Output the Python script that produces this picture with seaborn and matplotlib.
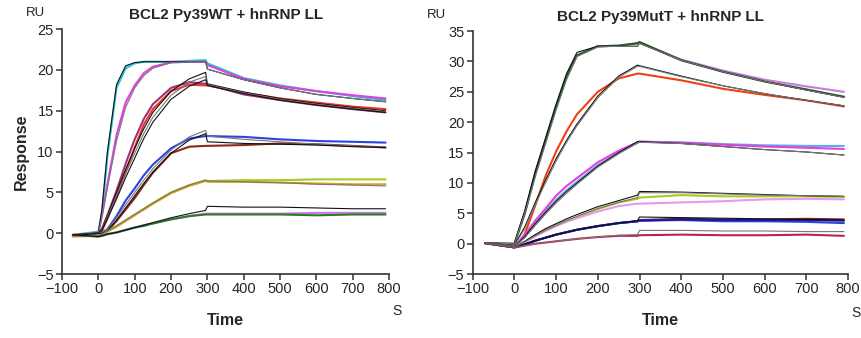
import numpy as np
import pandas as pd
import matplotlib
matplotlib.use("Agg")
import matplotlib.pyplot as plt
import seaborn as sns

times = [-70, 0, 10, 25, 50, 75, 100, 125, 150, 200, 250, 295, 300, 400, 500, 600, 700, 790]

# ---- left panel: BCL2 Py39WT + hnRNP LL ----
wt_data = {
    "cyan":    [-0.2, 0.2, 2.5, 9.5, 17.8, 20.2, 20.8, 21.0, 21.0, 21.0, 21.1, 21.2, 20.8, 19.0, 18.1, 17.4, 16.8, 16.3],
    "magenta": [-0.2, 0.0, 2.2, 6.0, 12.0, 16.0, 18.1, 19.6, 20.4, 20.9, 21.0, 21.0, 20.6, 18.9, 18.0, 17.4, 16.9, 16.5],
    "red":     [-0.2, 0.0, 0.3, 1.8, 4.5, 7.5, 10.5, 13.3, 15.2, 17.4, 18.2, 18.1, 18.1, 17.2, 16.5, 16.0, 15.5, 15.2],
    "purple":  [-0.3, 0.0, 0.5, 2.2, 5.2, 8.5, 11.5, 14.0, 15.8, 17.8, 18.5, 18.3, 18.2, 17.0, 16.3, 15.7, 15.2, 14.8],
    "blue":    [-0.3, 0.0, 0.1, 0.5, 2.1, 4.0, 5.5, 7.1, 8.4, 10.4, 11.6, 11.9, 11.9, 11.8, 11.5, 11.3, 11.2, 11.1],
    "brown":   [-0.3, 0.0, 0.0, 0.3, 1.5, 2.9, 4.3, 5.9, 7.4, 9.8, 10.6, 10.7, 10.7, 10.8, 11.0, 10.9, 10.7, 10.5],
    "lime":    [-0.3, -0.3, -0.1, 0.3, 0.9, 1.6, 2.3, 3.0, 3.7, 5.0, 5.9, 6.5, 6.4, 6.5, 6.5, 6.6, 6.6, 6.6],
    "orange":  [-0.4, -0.3, -0.1, 0.2, 0.8, 1.5, 2.2, 2.9, 3.6, 4.9, 5.8, 6.4, 6.3, 6.3, 6.2, 6.1, 6.0, 6.0],
    "violet":  [-0.2, -0.4, -0.3, -0.1, 0.1, 0.4, 0.7, 1.0, 1.2, 1.7, 2.1, 2.4, 2.4, 2.4, 2.4, 2.5, 2.5, 2.5],
    "green":   [-0.2, -0.4, -0.3, -0.1, 0.1, 0.4, 0.7, 0.9, 1.2, 1.7, 2.1, 2.3, 2.3, 2.3, 2.3, 2.2, 2.3, 2.3],
}
wt_fits = [
    [-0.2, 0.0, 3.0, 10.0, 18.2, 20.5, 20.9, 21.0, 21.0, 21.0, 21.0, 21.0, 20.1, 18.8, 17.8, 17.0, 16.5, 16.1],
    [-0.2, 0.0, 2.0, 5.6, 11.3, 15.4, 17.8, 19.3, 20.2, 20.9, 21.0, 21.0, 20.1, 18.8, 17.8, 17.0, 16.5, 16.1],
    [-0.2, 0.0, 0.6, 2.2, 5.0, 7.8, 10.4, 12.8, 14.8, 17.4, 18.9, 19.7, 18.3, 17.3, 16.5, 15.9, 15.4, 15.0],
    [-0.2, 0.0, 0.5, 2.0, 4.6, 7.3, 9.8, 12.2, 14.2, 16.9, 18.5, 19.2, 18.2, 17.2, 16.4, 15.8, 15.3, 14.9],
    [-0.2, 0.0, 0.4, 1.8, 4.2, 6.8, 9.2, 11.6, 13.6, 16.4, 18.0, 18.8, 18.1, 17.1, 16.3, 15.7, 15.2, 14.8],
    [-0.3, 0.0, 0.1, 0.5, 1.9, 3.5, 5.0, 6.5, 7.9, 10.2, 11.8, 12.6, 11.9, 11.5, 11.2, 10.9, 10.7, 10.5],
    [-0.3, 0.0, 0.0, 0.3, 1.6, 3.1, 4.6, 6.1, 7.5, 9.8, 11.4, 12.2, 11.2, 11.0, 10.9, 10.8, 10.6, 10.5],
    [-0.3, -0.3, -0.1, 0.3, 0.9, 1.6, 2.3, 3.0, 3.7, 5.0, 5.9, 6.5, 6.4, 6.3, 6.2, 6.0, 5.9, 5.8],
    [-0.2, -0.4, -0.3, -0.1, 0.1, 0.4, 0.7, 1.0, 1.3, 1.9, 2.4, 2.8, 3.3, 3.2, 3.2, 3.1, 3.0, 3.0],
]

# ---- right panel: BCL2 Py39MutT + hnRNP LL ----
mut_data = {
    "violet":   [0.1, 0.0, 2.0, 5.0, 11.5, 17.0, 22.5, 27.5, 31.0, 32.5, 32.6, 33.0, 33.1, 30.3, 28.5, 27.0, 25.9, 25.0],
    "dkgreen":  [0.1, 0.0, 2.0, 5.0, 11.5, 17.0, 22.5, 27.5, 31.0, 32.5, 32.6, 33.0, 33.2, 30.2, 28.3, 26.7, 25.4, 24.2],
    "orangered":[0.1, -0.3, 0.0, 1.6, 6.3, 11.2, 15.2, 18.5, 21.3, 25.0, 27.2, 28.0, 28.0, 26.9, 25.5, 24.5, 23.6, 22.6],
    "ltblue":   [0.1, -0.5, 0.2, 1.2, 3.3, 5.3, 7.2, 8.8, 10.2, 12.9, 15.0, 16.6, 16.8, 16.7, 16.4, 16.2, 16.1, 16.1],
    "magenta":  [0.1, -0.5, 0.3, 1.5, 3.8, 5.8, 7.9, 9.5, 10.8, 13.4, 15.3, 16.7, 16.8, 16.6, 16.3, 16.0, 15.8, 15.6],
    "lime":     [0.1, -0.5, -0.2, 0.3, 1.4, 2.3, 3.1, 3.8, 4.4, 5.7, 6.8, 7.4, 7.6, 8.0, 7.8, 7.8, 7.8, 7.7],
    "pink":     [0.1, -0.5, -0.2, 0.3, 1.2, 2.1, 2.9, 3.6, 4.2, 5.3, 6.2, 6.6, 6.6, 6.8, 7.0, 7.3, 7.4, 7.3],
    "dkred":    [0.1, -0.6, -0.4, -0.1, 0.5, 1.0, 1.5, 1.9, 2.3, 2.9, 3.4, 3.7, 3.9, 4.1, 4.0, 4.0, 4.1, 4.0],
    "blue":     [0.1, -0.6, -0.4, -0.1, 0.5, 1.0, 1.5, 1.9, 2.3, 2.9, 3.4, 3.7, 3.8, 3.9, 3.7, 3.7, 3.6, 3.4],
    "navy":     [0.1, -0.6, -0.4, -0.1, 0.5, 1.0, 1.5, 1.9, 2.3, 2.9, 3.4, 3.7, 3.8, 4.0, 3.9, 3.9, 3.9, 3.8],
    "crimson":  [0.1, -0.6, -0.5, -0.3, 0.0, 0.2, 0.4, 0.6, 0.8, 1.1, 1.3, 1.3, 1.4, 1.5, 1.4, 1.4, 1.5, 1.3],
}
mut_fits = [
    [0.1, 0.0, 2.3, 5.5, 12.0, 17.5, 23.0, 28.0, 31.5, 32.5, 32.5, 32.5, 33.0, 30.2, 28.3, 26.7, 25.3, 24.1],
    [0.1, 0.0, 2.0, 5.0, 11.0, 16.5, 22.0, 27.0, 30.8, 32.4, 32.5, 32.5, 33.0, 30.2, 28.3, 26.7, 25.3, 24.1],
    [0.1, -0.3, 1.0, 2.8, 6.8, 10.5, 14.0, 17.0, 19.7, 24.3, 27.6, 29.4, 29.3, 27.6, 26.0, 24.7, 23.6, 22.7],
    [0.1, -0.3, 0.8, 2.5, 6.4, 10.1, 13.6, 16.7, 19.4, 24.0, 27.4, 29.2, 29.2, 27.5, 26.0, 24.7, 23.6, 22.7],
    [0.1, -0.5, 0.2, 1.2, 3.3, 5.2, 7.0, 8.6, 10.0, 12.8, 15.0, 16.8, 16.8, 16.5, 16.0, 15.5, 15.1, 14.6],
    [0.1, -0.5, 0.1, 1.0, 3.0, 4.9, 6.7, 8.3, 9.8, 12.6, 14.8, 16.6, 16.7, 16.5, 16.0, 15.5, 15.1, 14.6],
    [0.1, -0.5, -0.2, 0.4, 1.5, 2.5, 3.3, 4.1, 4.8, 6.1, 7.1, 8.0, 8.6, 8.5, 8.3, 8.1, 7.9, 7.8],
    [0.1, -0.5, -0.2, 0.3, 1.3, 2.2, 3.0, 3.8, 4.5, 5.8, 6.8, 7.6, 8.4, 8.4, 8.2, 8.0, 7.9, 7.8],
    [0.1, -0.6, -0.4, -0.1, 0.5, 1.0, 1.5, 1.9, 2.3, 2.9, 3.4, 3.8, 4.4, 4.3, 4.2, 4.1, 4.0, 3.9],
    [0.1, -0.6, -0.5, -0.3, 0.0, 0.2, 0.4, 0.6, 0.8, 1.1, 1.4, 1.5, 2.2, 2.2, 2.1, 2.1, 2.0, 2.0],
]

colors = {
    "cyan": "#22c4d4", "magenta": "#e040e0", "red": "#ee3322", "purple": "#a0307a",
    "blue": "#2a44e0", "brown": "#8a2a1a", "lime": "#a6cc22", "orange": "#e0a020",
    "violet": "#c87ae0", "green": "#2a7a2a", "dkgreen": "#1f5a1f", "orangered": "#f04010",
    "ltblue": "#60a8e8", "pink": "#e89ae8", "dkred": "#8a1a2a", "navy": "#1a1a9a",
    "crimson": "#c02050",
}

sns.set_style("white")
plt.rcParams["font.family"] = ["Liberation Sans", "DejaVu Sans"]

fig = plt.figure(figsize=(8.61, 3.38), dpi=100)
ax1 = fig.add_axes([0.072, 0.189, 0.380, 0.725])
ax2 = fig.add_axes([0.549, 0.189, 0.436, 0.719])


def draw_panel(ax, data, fits, ymax, title):
    for name, vals in data.items():
        df = pd.DataFrame({"Time": times, "Response": vals})
        sns.lineplot(data=df, x="Time", y="Response", ax=ax, color=colors[name],
                     linewidth=1.5, estimator=None, sort=False)
    for i, vals in enumerate(fits):
        df = pd.DataFrame({"Time": times, "Response": vals})
        c = "#111111" if i % 2 == 0 else "#777777"
        sns.lineplot(data=df, x="Time", y="Response", ax=ax, color=c,
                     linewidth=0.8, estimator=None, sort=False)
    ax.set_xlim(-100, 800)
    ax.set_ylim(-5, ymax)
    ax.set_xticks(range(-100, 801, 100))
    ax.set_xticklabels(["\u2212100"] + [str(v) for v in range(0, 801, 100)])
    yt = list(range(-5, ymax + 1, 5))
    ax.set_yticks(yt)
    ax.set_yticklabels([("\u2212" + str(-v)) if v < 0 else str(v) for v in yt])
    for s in ["top", "right"]:
        ax.spines[s].set_visible(False)
    for s in ["left", "bottom"]:
        ax.spines[s].set_color("#333333")
        ax.spines[s].set_linewidth(1.2)
    ax.tick_params(direction="out", length=4, width=1.1, color="#333333",
                   labelsize=10.5, pad=2, bottom=True, left=True)
    ax.set_xlabel("Time", fontsize=11.5, fontweight="bold", labelpad=12)
    ax.set_ylabel("Response", fontsize=11.5, fontweight="bold", labelpad=6)
    ax.set_title(title, fontsize=11, fontweight="bold", pad=7)


draw_panel(ax1, wt_data, wt_fits, 25, "BCL2 Py39WT + hnRNP LL")
draw_panel(ax2, mut_data, mut_fits, 35, "BCL2 Py39MutT + hnRNP LL")
ax2.set_ylabel("")

fig.text(35 / 861, 1 - 13 / 338, "RU", fontsize=9.5, ha="center", va="center")
fig.text(436 / 861, 1 - 15 / 338, "RU", fontsize=9.5, ha="center", va="center")
fig.text(397 / 861, 1 - 311 / 338, "S", fontsize=10, ha="center", va="center")
fig.text(856 / 861, 1 - 313 / 338, "S", fontsize=10, ha="center", va="center")

fig.savefig("out.png", dpi=100)
